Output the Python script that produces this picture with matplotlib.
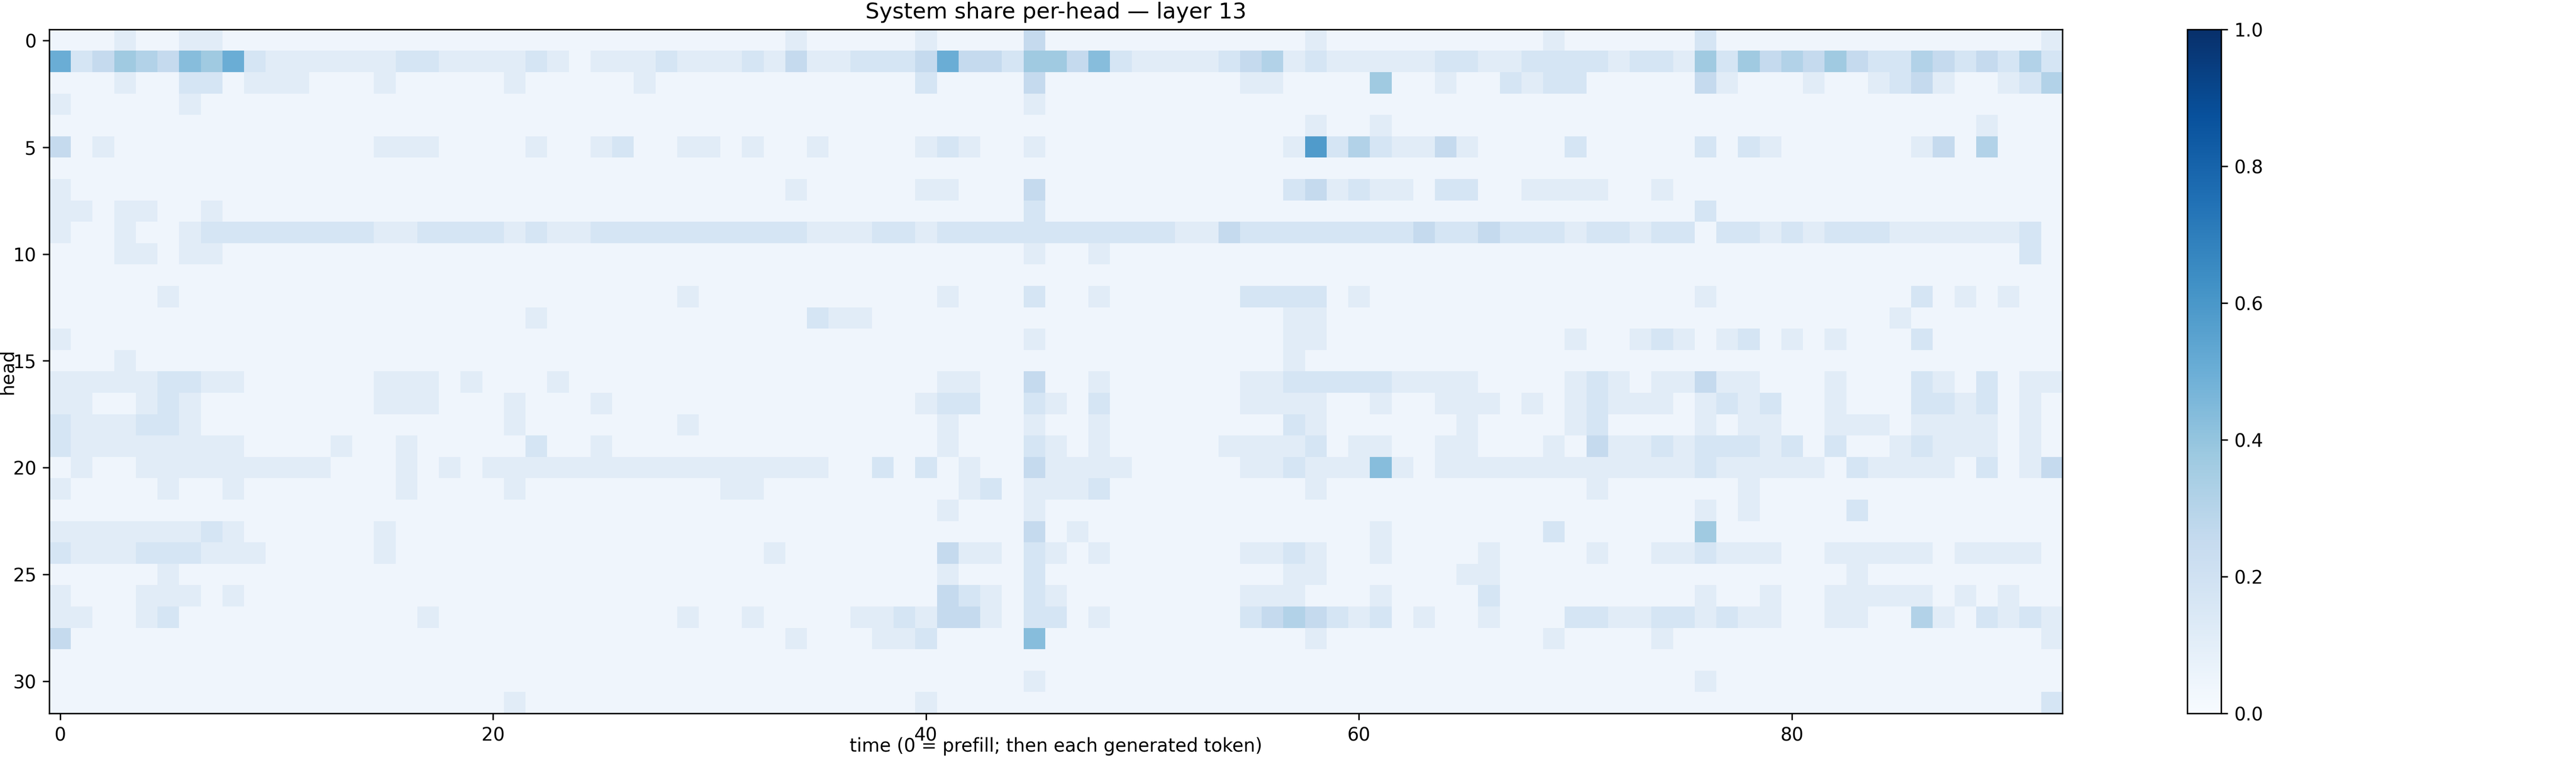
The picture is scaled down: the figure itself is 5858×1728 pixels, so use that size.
import numpy as np
import matplotlib
matplotlib.use("Agg")
import matplotlib.pyplot as plt

# heat levels, one string per head, 4 chunks per row:
# cols 0-22 | 23-45 | 46-69 | 70-92 ; each digit is a level, see levels below
rows = [
    ["11121122111111111111111", "11111111111211111211114", "111111111111211111111112", "11111131111111111111112"],
    ["83465476832222223322223", "21222322232422333484436", "647322223452322222332233", "33233263645464335434353"],
    ["11121133122211121111121", "11112111111111111311114", "111111111221111611211323", "31111142111211234211235"],
    ["21111121111111111111111", "11111111111111111111112", "111111111111111111111111", "11111111111111111111111"],
    ["11111111111111111111111", "11111111111111111111111", "111111111111211211111111", "11111111111111111112111"],
    ["41211111111111122211112", "11231122121121111232112", "111111111112935322421111", "31111131321111112415111"],
    ["11111111111111111111111", "11111111111111111111111", "111111111111111111111111", "11111111111111111111111"],
    ["21111111111111111111111", "11111111111211111221114", "111111111113423221331122", "22112111111111111111111"],
    ["22122112111111111111111", "11111111111111111111113", "111111111111111111111111", "11111131111111111111111"],
    ["21121123333333322333323", "22333333333322233233333", "333333224333333334334333", "23323313323233322222231"],
    ["11122122111111111111111", "11111111111111111111112", "112111111111111111111111", "11111111111111111111131"],
    ["11111111111111111111111", "11111111111111111111111", "111111111111111111111111", "11111111111111111111111"],
    ["11111211111111111111111", "11111121111111111121113", "112111111333312111111111", "11111121111111113121211"],
    ["11111111111111111111112", "11111111111132211111111", "111111111112211111111111", "11111111111111121111111"],
    ["21111111111111111111111", "11111111111111111111112", "111111111112211111111111", "21123212312121113111111"],
    ["11121111111111111111111", "11111111111111111111111", "111111111112111111111111", "11111111111111111111111"],
    ["22222332211111122212111", "21111111111111111122114", "112111111223333322221111", "23212242211121113213122"],
    ["22112321111111122211121", "11211111111111111233113", "213111111222211211222121", "23222123231121113323121"],
    ["32223321111111111111121", "11111121111111111121112", "112111111113211111121111", "23111121221122212222121"],
    ["32222222211112112111113", "11211111111111111121113", "212111112222312211221112", "14223233323131123222121"],
    ["12112222222221112121222", "22222222222221131312114", "222211111223222721222222", "22222232222213222213124"],
    ["21111211211111112111121", "11111111221111111112312", "223111111111211111111111", "12111111211111111111111"],
    ["11111111111111111111111", "11111111111111111121112", "111111111111111111111111", "11111121211113111111111"],
    ["22222223211111121111111", "11111111111111111111114", "121111111111111211111113", "11111161111111111111111"],
    ["32223332221111121111111", "11111111112111111142213", "212111111223211211112111", "12112232221122222122221"],
    ["11111211111111111111111", "11111111111111111121113", "111111111112211111122111", "11111111111112111111111"],
    ["21112221211111111111111", "11111111111111111143213", "211111111222111211113111", "11111121121122222121211"],
    ["22112311111111111211111", "11111121121111223244213", "312111111345432312112111", "33223323221122115213232"],
    ["41111111111111111111111", "11111111111211122311117", "111111111111211111111112", "11112111111111111111112"],
    ["11111111111111111111111", "11111111111111111111111", "111111111111111111111111", "11111111111111111111111"],
    ["11111111111111111111111", "11111111111111111111112", "111111111111111111111111", "11111121111111111111111"],
    ["11111111111111111111121", "11111111111111111211111", "111111111111111111111111", "11111111111111111111113"],
]
levels = [0.0, 0.04, 0.11, 0.17, 0.25, 0.31, 0.37, 0.43, 0.5, 0.58]
n_time = 93
title = "System share per-head \u2014 layer 13"

data = []
for r in rows:
    s = "".join(r)
    s = (s + "1" * n_time)[:n_time]
    data.append([levels[int(c)] for c in s])
data = np.array(data)

fig = plt.figure(figsize=(19.527, 5.76), dpi=300)
ax = fig.add_axes([0.0191, 0.0613, 0.7815, 0.8997])
cax = fig.add_axes([0.849, 0.0613, 0.0133, 0.8997])

im = ax.imshow(data, aspect="auto", cmap="Blues", vmin=0, vmax=1, interpolation="nearest")
ax.set_title(title)
ax.set_xlabel("time (0 = prefill; then each generated token)")
ax.set_ylabel("head")
ax.xaxis.set_label_coords(0.5, -0.035)
ax.yaxis.set_label_coords(-0.0163, 0.5)
ax.set_xticks([0, 20, 40, 60, 80])
ax.set_yticks([0, 5, 10, 15, 20, 25, 30])
fig.colorbar(im, cax=cax)

fig.savefig("out.png", dpi=300)
